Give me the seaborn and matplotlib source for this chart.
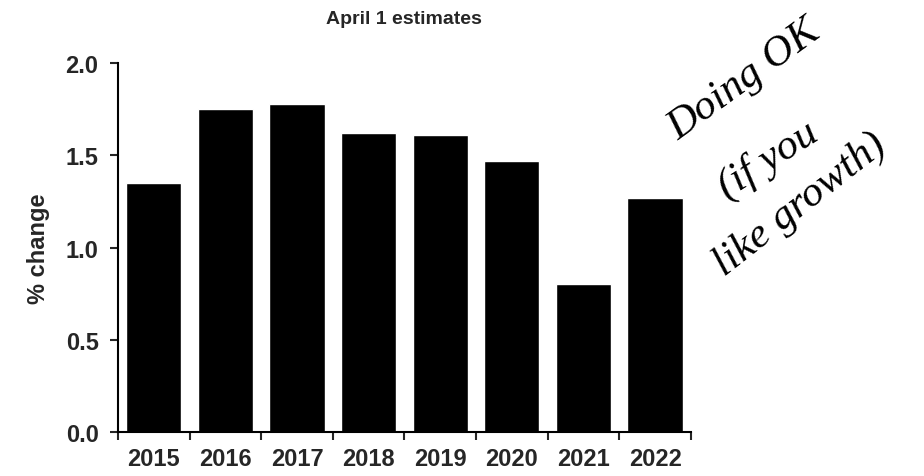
import numpy as np
import pandas as pd
import matplotlib
matplotlib.use("Agg")
import matplotlib.pyplot as plt
import seaborn as sns

years = ["2015", "2016", "2017", "2018", "2019", "2020", "2021", "2022"]
pct_change = [1.35, 1.75, 1.78, 1.62, 1.61, 1.47, 0.80, 1.27]
y_ticks = [0.0, 0.5, 1.0, 1.5, 2.0]

df = pd.DataFrame({"year": years, "pct": pct_change})

sns.set_style("ticks")
plt.rcParams["font.family"] = ["Liberation Sans", "DejaVu Sans"]

fig = plt.figure(figsize=(9.24, 4.77), dpi=100)
ax = fig.add_axes([0.1277, 0.092, 0.62, 0.774])

sns.barplot(data=df, x="year", y="pct", color="black", width=0.77,
            saturation=1, ax=ax)

ax.set_xlim(-0.5, len(years) - 0.5)
ax.set_ylim(0, 2.0)
ax.set_yticks(y_ticks)
ax.set_yticklabels([f"{v:.1f}" for v in y_ticks], fontsize=17, fontweight="bold")

# ticks sit between categories, labels under the bars
ax.set_xticks(np.arange(len(years) + 1) - 0.5)
ax.set_xticklabels([])
ax.set_xticks(np.arange(len(years)), minor=True)
ax.set_xticklabels(years, minor=True, fontsize=17, fontweight="bold")
ax.tick_params(axis="x", which="minor", length=0, pad=11)
ax.tick_params(axis="x", which="major", length=6, width=1.5, direction="out")
ax.tick_params(axis="y", length=6, width=1.5, direction="out", pad=8)

sns.despine(ax=ax)
for s in ["left", "bottom"]:
    ax.spines[s].set_linewidth(1.5)
    ax.spines[s].set_color("black")

ax.set_xlabel("")
ax.set_ylabel("% change", fontsize=17, fontweight="bold", labelpad=11)
ax.set_title("April 1 estimates", fontsize=14, fontweight="bold", pad=29)

# handwritten note
hand = dict(fontsize=31, fontstyle="italic", family=["Liberation Serif", "DejaVu Serif"],
            color="black", ha="center", va="center", transform=fig.transFigure)
fig.text(744 / 924, 1 - 80 / 477, "Doing OK", rotation=36, **hand)
fig.text(768 / 924, 1 - 160 / 477, "(if you", rotation=33, **hand)
fig.text(800 / 924, 1 - 205 / 477, "like growth)", rotation=38, **hand)

fig.savefig("out.png", dpi=100)
